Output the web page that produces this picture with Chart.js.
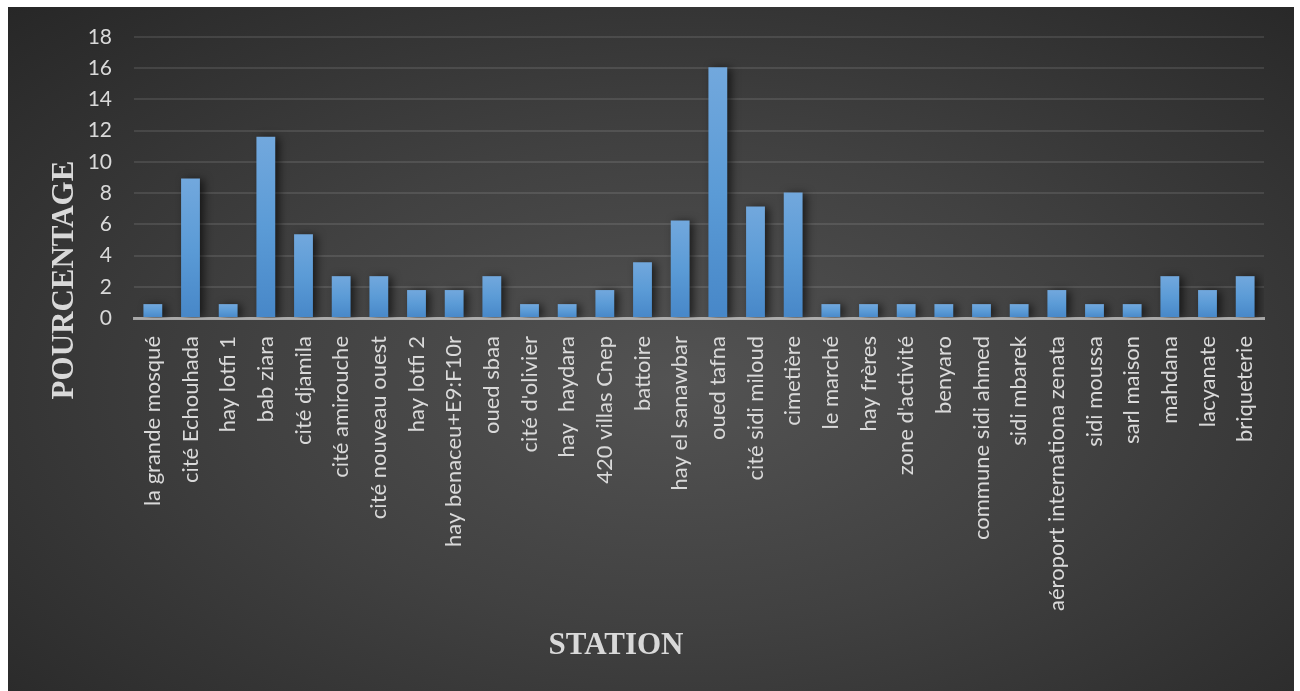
<!DOCTYPE html>
<html>
<head>
<meta charset="utf-8">
<script src="https://cdn.jsdelivr.net/npm/chart.js@4"></script>
<style>
    body { margin: 0; background: #ffffff; }
    #box {
        position: absolute; left: 8px; top: 7px; width: 1286px; height: 684px;
        background: radial-gradient(ellipse farthest-corner at 52% 55%, #535353 0%, #414141 45%, #272727 100%);
    }
</style>
</head>
<body>
<div id="box"><canvas id="myChart"></canvas></div>
<script>
const stations = [
    "la grande mosqué", "cité Echouhada", "hay lotfi 1", "bab ziara", "cité djamila",
    "cité amirouche", "cité nouveau ouest", "hay lotfi 2", "hay benaceu+E9:F10r", "oued sbaa",
    "cité d'olivier", "hay  haydara", "420 villas Cnep", "battoire", "hay el sanawbar",
    "oued tafna", "cité sidi miloud", "cimetière", "le marché", "hay frères",
    "zone d'activité", "benyaro", "commune sidi ahmed", "sidi mbarek", "aéroport internationa zenata",
    "sidi moussa", "sarl maison", "mahdana", "lacyanate", "briqueterie"
];
const pourcentage = [
    0.89, 8.93, 0.89, 11.61, 5.36,
    2.68, 2.68, 1.79, 1.79, 2.68,
    0.89, 0.89, 1.79, 3.57, 6.25,
    16.07, 7.14, 8.04, 0.89, 0.89,
    0.89, 0.89, 0.89, 0.89, 1.79,
    0.89, 0.89, 2.68, 1.79, 2.68
];
const yTicks = [0, 2, 4, 6, 8, 10, 12, 14, 16, 18];

const textColor = "#d9d9d9";

// each bar gets its own light-to-dark gradient
const barFill = (context) => {
    const chart = context.chart;
    const area = chart.chartArea;
    if (!area) return "#5b9bd5";
    const yScale = chart.scales.y;
    const top = yScale.getPixelForValue(context.raw);
    const bottom = yScale.getPixelForValue(0);
    const grad = chart.ctx.createLinearGradient(0, top, 0, bottom);
    grad.addColorStop(0, "#72a8dd");
    grad.addColorStop(0.5, "#5b9bd6");
    grad.addColorStop(1, "#4787c8");
    return grad;
};

// soft shadow right of the bars
const barShadow = {
    id: "barShadow",
    beforeDatasetsDraw(chart) {
        const c = chart.ctx;
        c.save();
        c.shadowColor = "rgba(0,0,0,0.6)";
        c.shadowBlur = 8;
        c.shadowOffsetX = 4;
        c.shadowOffsetY = 1;
    },
    afterDatasetsDraw(chart) {
        chart.ctx.restore();
    }
};

// axis titles sit off-centre in the original, so draw them by hand
const axisTitles = {
    id: "axisTitles",
    afterDraw(chart) {
        const c = chart.ctx;
        c.save();
        c.fillStyle = textColor;
        c.font = "bold 31px 'Liberation Serif'";
        c.textAlign = "center";
        c.textBaseline = "middle";
        c.fillText("STATION", 608, 639);
        c.translate(57, 273);
        c.rotate(-Math.PI / 2);
        c.fillText("POURCENTAGE", 0, 0);
        c.restore();
    }
};

const ctx = document.getElementById("myChart").getContext("2d");
Chart.defaults.font.family = "Lato, sans-serif";
Chart.defaults.color = textColor;

const myChart = new Chart(ctx, {
    type: "bar",
    data: {
        labels: stations,
        datasets: [{
            label: "POURCENTAGE",
            data: pourcentage,
            backgroundColor: barFill,
            barPercentage: 0.5,
            categoryPercentage: 1
        }]
    },
    options: {
        responsive: true,
        maintainAspectRatio: false,
        animation: false,
        layout: { padding: { left: 0, top: 30, right: 30, bottom: 0 } },
        scales: {
            x: {
                z: 1,
                grid: { display: false },
                border: { display: true, color: "rgba(200,200,200,0.75)", width: 3 },
                ticks: {
                    autoSkip: false,
                    maxRotation: 90,
                    minRotation: 90,
                    padding: 10,
                    color: textColor,
                    font: { size: 22 }
                },
                afterFit: (scale) => { scale.height = 373; }
            },
            y: {
                min: 0,
                max: 18,
                afterBuildTicks: (scale) => { scale.ticks = yTicks.map(v => ({ value: v })); },
                grid: { color: "rgba(255,255,255,0.1)", lineWidth: 2, drawTicks: false },
                border: { display: false },
                ticks: {
                    padding: 22,
                    color: textColor,
                    font: { size: 21 }
                },
                afterFit: (scale) => {
                    scale.width = 126;
                    scale.paddingTop = 0;       // let the layout padding decide the top
                    scale.paddingBottom = 0;
                }
            }
        },
        plugins: {
            legend: { display: false },
            tooltip: { enabled: false }
        }
    },
    plugins: [barShadow, axisTitles]
});
</script>
</body>
</html>
